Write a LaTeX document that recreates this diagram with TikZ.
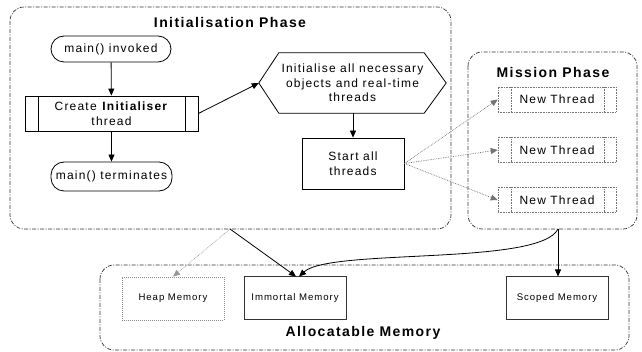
\documentclass[tikz,border=0pt]{standalone}
\usepackage{fontspec}
\setmainfont{Liberation Sans}[LetterSpace=10]
\usetikzlibrary{arrows.meta,calc}

\tikzset{
  phase/.style={draw=black!80, line width=0.7pt,
    dash pattern=on 4pt off 1.5pt on 1pt off 1.5pt, rounded corners=14pt},
  phasetitle/.style={font=\fontsize{14}{16}\selectfont\bfseries, inner sep=0pt},
  body/.style={font=\fontsize{12}{14.5}\selectfont, align=center, inner sep=0pt},
  small/.style={font=\fontsize{9.6}{11}\selectfont, align=center, inner sep=0pt},
  terminal/.style={body, draw, line width=0.8pt, rounded corners=13pt,
    minimum width=120pt},
  process/.style={body, draw, line width=0.8pt},
  subproc/.style={body, draw, line width=0.8pt,
    path picture={\draw[line width=0.8pt]
      ([xshift=13pt]path picture bounding box.north west) --
      ([xshift=13pt]path picture bounding box.south west)
      ([xshift=-13pt]path picture bounding box.north east) --
      ([xshift=-13pt]path picture bounding box.south east);}},
  newthread/.style={body, draw=black!55, densely dotted, line width=0.6pt,
    minimum width=118pt, minimum height=25pt,
    path picture={\draw[black!55, densely dotted, line width=0.6pt]
      ([xshift=13pt]path picture bounding box.north west) --
      ([xshift=13pt]path picture bounding box.south west)
      ([xshift=-12pt]path picture bounding box.north east) --
      ([xshift=-12pt]path picture bounding box.south east);}},
  memory/.style={small, draw=black!80, line width=1pt,
    minimum width=102pt, minimum height=43pt},
  flow/.style={line width=0.8pt, -{Triangle[length=7pt,width=6pt]}},
  faint/.style={black!55, densely dotted, line width=0.7pt,
    -{Triangle[length=7pt,width=6pt]}},
}

\begin{document}
\begin{tikzpicture}[x=1pt,y=-1pt]
\useasboundingbox (0,0) rectangle (642,352);

% phase containers
\draw[phase] (10,7) rectangle (451,229);
\draw[phase] (468,52) rectangle (637,229);
\draw[phase] (100,265) rectangle (629,350);
\coordinate (initfoot) at (230,229);
\coordinate (missfoot) at (558,229);

\node[phasetitle] (inittitle) at (230,23) {Initialisation Phase};
\node[phasetitle] (misstitle) at (553,73) {Mission Phase};
\node[phasetitle] (alloctitle) at (363,333) {Allocatable Memory};

% initialisation flow
\node[terminal, minimum height=26pt] (invoked) at (111,49) {main() invoked};
\node[subproc, minimum width=173pt, minimum height=35pt] (create) at (111.5,113.5)
  {Create \textbf{Initialiser}\\thread};
\node[terminal, minimum width=121pt, minimum height=29pt] (terminates) at (111.5,176.5)
  {main() terminates};

\node[body, minimum width=187pt, minimum height=60pt] (hex) at (352.5,83)
  {Initialise all necessary\\objects and real-time\\threads};
\draw[line width=0.8pt] (hex.west) -- ([xshift=20pt]hex.north west)
  -- ([xshift=-22pt]hex.north east) -- (hex.east)
  -- ([xshift=-22pt]hex.south east) -- ([xshift=20pt]hex.south west) -- cycle;

\node[process, minimum width=102pt, minimum height=51pt] (start) at (353,163.5)
  {Start all\\threads};

% mission threads
\node[newthread] (t1) at (557,99.5) {New Thread};
\node[newthread] (t2) at (557,150) {New Thread};
\node[newthread] (t3) at (557,200) {New Thread};

% memory areas
\node[memory, draw=black!45, densely dotted, line width=0.7pt] (heap) at (173,298.5) {Heap Memory};
\node[memory] (immortal) at (295,298.5) {Immortal Memory};
\node[memory] (scoped) at (557,298.5) {Scoped Memory};

% connectors
\draw[flow] (invoked) -- (create);
\draw[flow] (create) -- (terminates);
\draw[flow] (create.east) -- (hex.west);
\draw[flow] (hex.south -| start.north) -- (start.north);
\draw[faint] (start.east) -- (t1.west);
\draw[faint] (start.east) -- (t2.west);
\draw[faint] (start.east) -- (t3.west);

\draw[faint, black!40] (initfoot) -- (heap.north);
\draw[flow] (initfoot) -- ([xshift=1pt]immortal.north);
\draw[flow] (missfoot) .. controls (540,266) and (330,248) .. ([xshift=4pt]immortal.north);
\draw[flow] (missfoot) -- (missfoot |- scoped.north);
\end{tikzpicture}
\end{document}
